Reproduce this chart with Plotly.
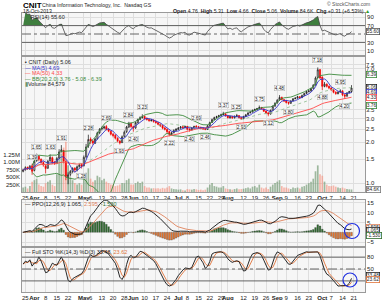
import math
import pandas as pd
import plotly.graph_objects as go

# ---------------- data ----------------
HOLIDAYS = ["2013-03-29", "2013-05-27", "2013-07-04", "2013-09-02"]
dates = [d for d in pd.bdate_range("2013-03-22", "2013-10-18")
         if d.strftime("%Y-%m-%d") not in HOLIDAYS]

open_ = [1.22,
         1.25, 1.31, 1.27, 1.34,
         1.24, 1.46, 1.58, 1.50, 1.42,
         1.34, 1.29, 1.46, 1.54, 1.43,
         1.40, 1.53, 1.72, 1.74, 1.44,
         1.10, 1.16, 1.22, 1.29, 1.25,
         1.32, 1.37, 1.34, 1.56, 1.88,
         2.12, 2.05, 1.97, 2.13, 2.36,
         2.52, 2.56, 2.62, 2.50, 2.42,
         2.30, 2.26, 2.15, 2.05, 1.99,
         2.22, 2.40, 2.60, 2.76,
         2.62, 2.56, 2.80, 2.96, 3.06,
         3.12, 3.02, 2.96, 2.89, 2.93,
         2.86, 2.80, 2.73, 2.66, 2.56,
         2.50, 2.41, 2.29, 2.36, 2.45,
         2.50, 2.56, 2.61, 2.57,
         2.63, 2.51, 2.47, 2.56, 2.63,
         2.61, 2.58, 2.56, 2.52, 2.49,
         2.66, 2.81, 2.96, 3.06, 3.11,
         3.16, 3.21, 3.26, 3.14, 3.04,
         3.11, 3.04, 3.13, 3.16, 3.06,
         3.00, 3.11, 3.21, 3.31, 3.36,
         3.46, 3.51, 3.56, 3.63, 3.54,
         3.41, 3.31, 3.24, 3.46, 3.71,
         3.92, 4.12, 4.32, 4.14,
         4.06, 3.96, 3.89, 4.06, 4.21,
         4.26, 4.36, 4.29, 4.46, 4.61,
         4.76, 4.81, 5.02, 5.32, 6.05,
         6.92,
         6.10, 5.20, 5.42, 5.21,
         5.06, 4.91, 4.71, 4.58, 4.71,
         4.82, 4.50, 4.40, 4.66, 4.76]

high = [1.28,
        1.33, 1.32, 1.36, 1.39,
        1.50, 1.65, 1.60, 1.52, 1.45,
        1.36, 1.48, 1.63, 1.57, 1.46,
        1.56, 1.78, 1.91, 1.76, 1.47,
        1.20, 1.25, 1.31, 1.31, 1.35,
        1.39, 1.40, 1.60, 1.95, 2.28,
        2.18, 2.08, 2.17, 2.40, 2.55,
        2.62, 2.66, 2.69, 2.55, 2.45,
        2.35, 2.30, 2.18, 2.08, 2.25,
        2.45, 2.65, 2.84, 2.80,
        2.66, 2.85, 3.00, 3.12, 3.23,
        3.15, 3.06, 3.00, 2.98, 2.95,
        2.90, 2.84, 2.76, 2.70, 2.60,
        2.54, 2.44, 2.40, 2.50, 2.55,
        2.60, 2.64, 2.65, 2.66,
        2.64, 2.54, 2.60, 2.66, 2.69,
        2.64, 2.62, 2.58, 2.56, 2.70,
        2.85, 3.00, 3.10, 3.15, 3.20,
        3.26, 3.37, 3.28, 3.18, 3.15,
        3.14, 3.16, 3.25, 3.18, 3.08,
        3.15, 3.25, 3.35, 3.40, 3.50,
        3.56, 3.60, 3.75, 3.66, 3.58,
        3.44, 3.34, 3.50, 3.75, 3.96,
        4.18, 4.48, 4.35, 4.20,
        4.10, 4.00, 4.10, 4.26, 4.32,
        4.42, 4.40, 4.52, 4.66, 4.82,
        4.90, 5.08, 5.40, 6.15, 7.18,
        6.95,
        6.15, 5.60, 5.45, 5.28,
        5.12, 4.96, 4.78, 4.78, 4.95,
        4.84, 4.55, 4.70, 4.82, 5.31]

low = [1.20,
       1.24, 1.25, 1.25, 1.15,
       1.22, 1.44, 1.45, 1.38, 1.32,
       1.18, 1.27, 1.44, 1.38, 1.36,
       1.38, 1.50, 1.68, 1.40, 1.05,
       0.98, 1.12, 1.18, 1.20, 1.22,
       1.30, 1.28, 1.33, 1.52, 1.82,
       1.95, 1.92, 1.95, 2.10, 2.30,
       2.45, 2.50, 2.45, 2.38, 2.25,
       2.18, 2.10, 2.00, 1.93, 1.98,
       2.18, 2.35, 2.55, 2.55,
       2.40, 2.52, 2.76, 2.92, 3.00,
       2.95, 2.90, 2.84, 2.86, 2.80,
       2.75, 2.68, 2.60, 2.50, 2.45,
       2.34, 2.22, 2.26, 2.33, 2.42,
       2.47, 2.52, 2.52, 2.55,
       2.45, 2.40, 2.45, 2.53, 2.55,
       2.53, 2.50, 2.48, 2.46, 2.48,
       2.62, 2.78, 2.92, 3.02, 3.08,
       3.12, 3.18, 3.10, 3.00, 3.00,
       2.98, 3.01, 3.08, 3.00, 2.93,
       2.97, 3.08, 3.18, 3.28, 3.33,
       3.42, 3.47, 3.52, 3.50, 3.36,
       3.24, 3.12, 3.22, 3.44, 3.68,
       3.88, 4.08, 4.10, 3.98,
       3.88, 3.80, 3.87, 4.02, 4.18,
       4.22, 4.24, 4.26, 4.43, 4.58,
       4.70, 4.76, 4.98, 5.28, 5.96,
       5.90,
       4.88, 5.12, 5.10, 4.95,
       4.82, 4.62, 4.50, 4.55, 4.68,
       4.40, 4.20, 4.36, 4.62, 4.66]

close = [1.25,
         1.30, 1.28, 1.33, 1.22,
         1.45, 1.58, 1.50, 1.42, 1.36,
         1.28, 1.45, 1.55, 1.42, 1.40,
         1.52, 1.70, 1.76, 1.45, 1.12,
         1.15, 1.22, 1.28, 1.25, 1.32,
         1.36, 1.33, 1.55, 1.85, 2.10,
         2.05, 1.98, 2.12, 2.35, 2.50,
         2.55, 2.60, 2.50, 2.42, 2.30,
         2.25, 2.15, 2.05, 1.98, 2.20,
         2.38, 2.60, 2.75, 2.62,
         2.55, 2.80, 2.95, 3.05, 3.10,
         3.00, 2.95, 2.90, 2.92, 2.85,
         2.80, 2.72, 2.65, 2.55, 2.50,
         2.40, 2.30, 2.35, 2.45, 2.50,
         2.55, 2.60, 2.58, 2.62,
         2.50, 2.48, 2.55, 2.62, 2.60,
         2.58, 2.55, 2.52, 2.50, 2.65,
         2.80, 2.95, 3.05, 3.10, 3.15,
         3.20, 3.25, 3.15, 3.05, 3.10,
         3.05, 3.12, 3.15, 3.05, 3.00,
         3.10, 3.20, 3.30, 3.35, 3.45,
         3.50, 3.55, 3.62, 3.55, 3.40,
         3.30, 3.25, 3.45, 3.70, 3.90,
         4.10, 4.30, 4.15, 4.05,
         3.95, 3.90, 4.05, 4.20, 4.25,
         4.35, 4.30, 4.45, 4.60, 4.75,
         4.80, 5.00, 5.30, 6.00, 6.90,
         6.00,
         5.20, 5.40, 5.20, 5.05,
         4.90, 4.70, 4.60, 4.70, 4.80,
         4.50, 4.40, 4.65, 4.75, 5.06]

volume_k = [150,
            180, 120, 200, 350,
            400, 450, 250, 200, 180,
            300, 350, 400, 250, 200,
            600, 1100, 1300, 1500, 1700,
            900, 500, 400, 300, 250,
            300, 250, 500, 650, 800,
            450, 350, 400, 550, 500,
            400, 450, 350, 300, 250,
            250, 200, 220, 250, 300,
            300, 400, 450, 250,
            250, 300, 350, 300, 350,
            200, 150, 150, 120, 130,
            120, 130, 110, 140, 120,
            150, 200, 120, 100, 90,
            80, 90, 60, 50,
            100, 90, 80, 100, 90,
            70, 80, 60, 80, 150,
            250, 300, 200, 180, 150,
            150, 200, 120, 100, 90,
            80, 100, 120, 90, 100,
            110, 130, 150, 120, 180,
            200, 150, 250, 150, 120,
            150, 100, 180, 250, 300,
            350, 400, 200, 150,
            150, 120, 100, 150, 130,
            150, 120, 180, 200, 250,
            300, 350, 450, 700, 900,
            600,
            550, 350, 250, 200,
            200, 220, 180, 150, 130,
            150, 120, 100, 90, 85]

# local high / low value labels shown on the price chart
pivot_dates = ["2013-03-28", "2013-04-02", "2013-04-10", "2013-04-17", "2013-04-30",
               "2013-05-03", "2013-05-15", "2013-05-23", "2013-05-30", "2013-06-03",
               "2013-06-07", "2013-06-25", "2013-07-09", "2013-07-12", "2013-07-18",
               "2013-07-30", "2013-08-07", "2013-08-09", "2013-08-21", "2013-08-27",
               "2013-09-04", "2013-09-10", "2013-09-27", "2013-10-01", "2013-10-11",
               "2013-10-15"]
pivot_vals = [1.39, 1.65, 1.63, 1.91, 1.28, 2.28, 2.69, 1.93, 2.84, 2.40,
              3.23, 2.22, 2.40, 2.69, 2.46, 3.37, 3.25, 2.93, 3.75, 3.12,
              4.48, 3.80, 7.18, 4.88, 4.95, 4.20]
pivot_side = ["hi", "hi", "hi", "hi", "lo", "hi", "hi", "lo", "hi", "lo",
              "hi", "lo", "lo", "hi", "lo", "hi", "hi", "lo", "hi", "lo",
              "hi", "lo", "hi", "lo", "hi", "lo"]

tick_dates = ["2013-03-25", "2013-04-01", "2013-04-08", "2013-04-15", "2013-04-22",
              "2013-05-01", "2013-05-06", "2013-05-13", "2013-05-20", "2013-05-28",
              "2013-06-03", "2013-06-10", "2013-06-17", "2013-06-24", "2013-07-01",
              "2013-07-08", "2013-07-15", "2013-07-22", "2013-07-29", "2013-08-01",
              "2013-08-12", "2013-08-19", "2013-08-26", "2013-09-03", "2013-09-09",
              "2013-09-16", "2013-09-23", "2013-10-01", "2013-10-07", "2013-10-14",
              "2013-10-21"]
tick_text = ["25", "<b>Apr</b>", "8", "15", "22", "<b>May</b>", "6", "13", "20", "28",
             "<b>Jun</b>", "10", "17", "24", "<b>Jul</b>", "8", "15", "22", "29",
             "<b>Aug</b>", "12", "19", "26", "<b>Sep</b>", "9", "16", "23", "<b>Oct</b>",
             "7", "14", "21"]

# ---------------- indicators ----------------
C = pd.Series(close)
H = pd.Series(high)
L = pd.Series(low)
ma5 = C.rolling(5, min_periods=1).mean()
ma50 = C.rolling(50, min_periods=1).mean()
bb_mid = C.rolling(20, min_periods=5).mean()
bb_sd = C.rolling(20, min_periods=5).std(ddof=0)
bb_up = bb_mid + 2 * bb_sd
bb_dn = bb_mid - 2 * bb_sd

d = C.diff()
ag = d.clip(lower=0).ewm(alpha=1 / 14, adjust=False).mean()
al = (-d.clip(upper=0)).ewm(alpha=1 / 14, adjust=False).mean()
rsi = 100 - 100 / (1 + ag / al)

e12 = C.ewm(span=12, adjust=False).mean()
e26 = C.ewm(span=26, adjust=False).mean()
ppo = (e12 - e26) / e26 * 100
sig = ppo.ewm(span=9, adjust=False).mean()
hist = ppo - sig

hh = H.rolling(14, min_periods=1).max()
ll = L.rolling(14, min_periods=1).min()
fk = 100 * (C - ll) / (hh - ll)
sk = fk.rolling(3, min_periods=1).mean()
sd = sk.rolling(3, min_periods=1).mean()

# ---------------- styling ----------------
FONT = "Liberation Sans"
GRID = "#dedede"
BORDER = "#9a9a9a"
BG = "#f6f6f6"
W, HGT = 382, 300
XD = [22 / W, 365 / W]


def ydom(top, bot):
    return [1 - bot / HGT, 1 - top / HGT]


rb = [dict(bounds=["sat", "mon"]), dict(values=HOLIDAYS)]
xr = ["2013-03-21 12:00", "2013-10-28"]

fig = go.Figure()

# RSI panel
lvl70 = [70] * len(dates)
fig.add_trace(go.Scatter(x=dates, y=lvl70, mode="lines", line=dict(width=0),
                         xaxis="x", yaxis="y", hoverinfo="skip"))
fig.add_trace(go.Scatter(x=dates, y=[max(v, 70) if v == v else 70 for v in rsi],
                         mode="lines", line=dict(width=0), fill="tonexty",
                         fillcolor="#3f7f3f", xaxis="x", yaxis="y", hoverinfo="skip"))
fig.add_trace(go.Scatter(x=dates, y=rsi, mode="lines", line=dict(color="#444", width=0.8),
                         xaxis="x", yaxis="y"))

# volume (behind price)
vol = [v * 1000 for v in volume_k]
vcol = ["rgba(110,150,110,0.65)" if i == 0 or close[i] >= close[i - 1]
        else "rgba(245,140,120,0.6)" for i in range(len(close))]
fig.add_trace(go.Bar(x=dates, y=vol, marker=dict(color=vcol, line=dict(width=0)),
                     xaxis="x2", yaxis="y2"))

# overlays
fig.add_trace(go.Scatter(x=dates, y=bb_mid, mode="lines",
                         line=dict(color="#8dbb8d", width=0.8, dash="dot"), xaxis="x2", yaxis="y3"))
fig.add_trace(go.Scatter(x=dates, y=bb_up, mode="lines",
                         line=dict(color="#3c8a3c", width=0.9), xaxis="x2", yaxis="y3"))
fig.add_trace(go.Scatter(x=dates, y=bb_dn, mode="lines",
                         line=dict(color="#3c8a3c", width=0.9), xaxis="x2", yaxis="y3"))
fig.add_trace(go.Scatter(x=dates, y=ma50, mode="lines",
                         line=dict(color="#ff4a4a", width=0.9), xaxis="x2", yaxis="y3"))
fig.add_trace(go.Scatter(x=dates, y=ma5, mode="lines",
                         line=dict(color="#3535c8", width=0.9), xaxis="x2", yaxis="y3"))
fig.add_trace(go.Candlestick(x=dates, open=open_, high=high, low=low, close=close,
                             increasing=dict(line=dict(color="#111", width=0.7), fillcolor="#ffffff"),
                             decreasing=dict(line=dict(color="#ee0000", width=0.7), fillcolor="#ff0000"),
                             whiskerwidth=0, xaxis="x2", yaxis="y3"))

# PPO panel
hcol = ["#2f6f2f" if v >= 0 else "#f07a30" for v in hist]
fig.add_trace(go.Bar(x=dates, y=hist, marker=dict(color=hcol, line=dict(color="#333", width=0.3)),
                     xaxis="x3", yaxis="y4"))
fig.add_trace(go.Scatter(x=dates, y=sig, mode="lines", line=dict(color="#e0825a", width=0.9),
                         xaxis="x3", yaxis="y4"))
fig.add_trace(go.Scatter(x=dates, y=ppo, mode="lines", line=dict(color="#111", width=0.9),
                         xaxis="x3", yaxis="y4"))

# STO panel
fig.add_trace(go.Scatter(x=dates, y=sd, mode="lines", line=dict(color="#e0733a", width=0.9),
                         xaxis="x4", yaxis="y5"))
fig.add_trace(go.Scatter(x=dates, y=sk, mode="lines", line=dict(color="#111", width=0.9),
                         xaxis="x4", yaxis="y5"))

tf = dict(family=FONT, size=6, color="#222")
xcommon = dict(domain=XD, range=xr, rangebreaks=rb, tickvals=tick_dates, ticktext=tick_text,
               showgrid=True, gridcolor=GRID, gridwidth=0.6, showline=True, mirror=True,
               linecolor=BORDER, linewidth=0.8, ticks="", tickfont=tf, zeroline=False,
               tickangle=0, fixedrange=True)
ycommon = dict(showgrid=True, gridcolor=GRID, gridwidth=0.6, showline=True, mirror=True,
               linecolor=BORDER, linewidth=0.8, ticks="", tickfont=tf, zeroline=False,
               side="right", fixedrange=True)

fig.update_layout(
    width=W, height=HGT, margin=dict(l=0, r=0, t=0, b=0),
    paper_bgcolor="white", plot_bgcolor=BG, showlegend=False, bargap=0.25,
    font=dict(family=FONT, size=6, color="#222"),
    xaxis=dict(xcommon, anchor="y", showticklabels=False),
    xaxis2=dict(xcommon, anchor="y2", matches="x", showticklabels=True,
                rangeslider=dict(visible=False)),
    xaxis3=dict(xcommon, anchor="y4", matches="x", showticklabels=False),
    xaxis4=dict(xcommon, anchor="y5", matches="x", showticklabels=True),
    yaxis=dict(ycommon, domain=ydom(13, 55), range=[0, 100], tickvals=[10, 30, 70, 90],
               anchor="x"),
    yaxis2=dict(ycommon, domain=ydom(57, 192), range=[0, 4.56e6], side="left", showgrid=False,
                tickvals=[250e3, 500e3, 750e3, 1e6, 1.25e6],
                ticktext=["250K", "500K", "750K", "1.00M", "1.25M"], anchor="x2"),
    yaxis3=dict(ycommon, overlaying="y2", type="log", anchor="x2",
                range=[math.log10(0.858), math.log10(8.58)],
                tickvals=[1, 1.5, 2, 2.5, 3, 3.5, 7, 7.5],
                ticktext=["1.0", "1.5", "2.0", "2.5", "3.0", "3.5", "7.0", "7.5"],
                showline=False),
    yaxis4=dict(ycommon, domain=ydom(200, 246), range=[-7, 16.5], tickvals=[-5, 5, 10, 15],
                anchor="x3"),
    yaxis5=dict(ycommon, domain=ydom(248, 292), range=[-8, 103], tickvals=[50, 80],
                anchor="x4"),
)

shapes = []
for yv, dash, yr in [(70, "solid", "y"), (30, "solid", "y"), (50, "dashdot", "y"),
                     (80, "solid", "y5"), (20, "solid", "y5"), (50, "dashdot", "y5")]:
    shapes.append(dict(type="line", xref="paper", x0=XD[0], x1=XD[1], yref=yr, y0=yv, y1=yv,
                       line=dict(color="#555", width=0.9, dash=dash)))
# blue circles drawn by the chart author
for cx, cy, r in [(352, 231, 7.5), (350, 280, 7)]:
    shapes.append(dict(type="circle", xref="paper", yref="paper",
                       x0=(cx - r) / W, x1=(cx + r) / W, y0=1 - (cy + r) / HGT, y1=1 - (cy - r) / HGT,
                       line=dict(color="#2030e0", width=1.2)))
fig.update_layout(shapes=shapes)

ann = []


def txt(x, y, text, size=5.5, color="#222", xanchor="left", **kw):
    ann.append(dict(x=x / W, y=1 - y / HGT, xref="paper", yref="paper", text=text,
                    showarrow=False, xanchor=xanchor, yanchor="middle",
                    font=dict(family=FONT, size=size, color=color), **kw))


# header
txt(21, 5, "<b>CNIT</b>", size=8, color="#000")
txt(40, 5, "China Information Technology, Inc.  Nasdaq GS", size=5.2)
txt(21, 11, "18-Oct-2013", size=5.2)
txt(372, 4, "© StockCharts.com", size=5, color="#555", xanchor="right")
txt(372, 11, "<b>Open</b> 4.76  <b>High</b> 5.31  <b>Low</b> 4.66  <b>Close</b> 5.06  "
              "<b>Volume</b> 84.6K  <b>Chg</b> +0.31 (+6.53%) <span style='color:#2a9a2a'>▲</span>",
    size=5.2, xanchor="right")
# panel legends
txt(23, 17, "<span style='color:#3f7f3f'>▲</span>RSI(14) 55.60", size=5.5)
txt(23, 62, "<b>▪</b> CNIT (Daily) 5.06", size=5.5)
txt(23, 67.5, "<span style='color:#3535c8'>— MA(5) 4.69</span>", size=5.5)
txt(23, 73, "<span style='color:#ff4a4a'>— MA(50) 4.33</span>", size=5.5)
txt(23, 78.5, "<span style='color:#3c8a3c'>— BB(20,2.0) 3.76 - 5.08 - 6.39</span>", size=5.5)
txt(23, 84, "<span style='color:#6e966e'>▮</span>Volume 84,579", size=5.5)
txt(23, 204, "— PPO(12,26,9) 1.065, <span style='color:#e0825a'>2.595</span>, "
             "<span style='color:#2f6f2f'>-1.530</span>", size=5.5)
txt(23, 252, "— Full STO %K(14,3) %D(3) 33.48, <span style='color:#e0733a'>23.62</span>", size=5.5)


def box(yref, y, text, color):
    ann.append(dict(x=366 / W, xref="paper", y=y, yref=yref, text=text, showarrow=False,
                    xanchor="left", yanchor="middle", bgcolor="white", bordercolor=color,
                    borderwidth=0.8, borderpad=0, font=dict(family=FONT, size=4.8, color="#222")))


box("y", 55.6, "55.60", "#555")
box("y3", math.log10(6.39), "6.39", "#3c8a3c")
box("y3", math.log10(5.06), "5.06", "#222")
box("y3", math.log10(4.69), "4.69", "#3535c8")
box("y3", math.log10(4.33), "4.33", "#ff4a4a")
box("y3", math.log10(3.76), "3.76", "#3c8a3c")
box("y2", 84.6e3, "84.6K", "#777")
box("y4", 2.595, "2.595", "#e0825a")
box("y4", 1.065, "1.065", "#222")
box("y4", -1.53, "-1.530", "#2f6f2f")
box("y5", 33.48, "33.48", "#222")
box("y5", 23.62, "23.62", "#e0733a")

for dt, v, s in zip(pivot_dates, pivot_vals, pivot_side):
    ann.append(dict(x=dt, y=math.log10(v), xref="x2", yref="y3", text=f"{v:.2f}",
                    showarrow=False, yshift=7 if s == "hi" else -7, xanchor="center",
                    yanchor="middle", bgcolor="rgba(255,255,255,0.85)", bordercolor="#aaa",
                    borderwidth=0.5, borderpad=0.2, font=dict(family=FONT, size=4.8, color="#222")))

fig.update_layout(annotations=ann)
fig.write_html("out.html")
